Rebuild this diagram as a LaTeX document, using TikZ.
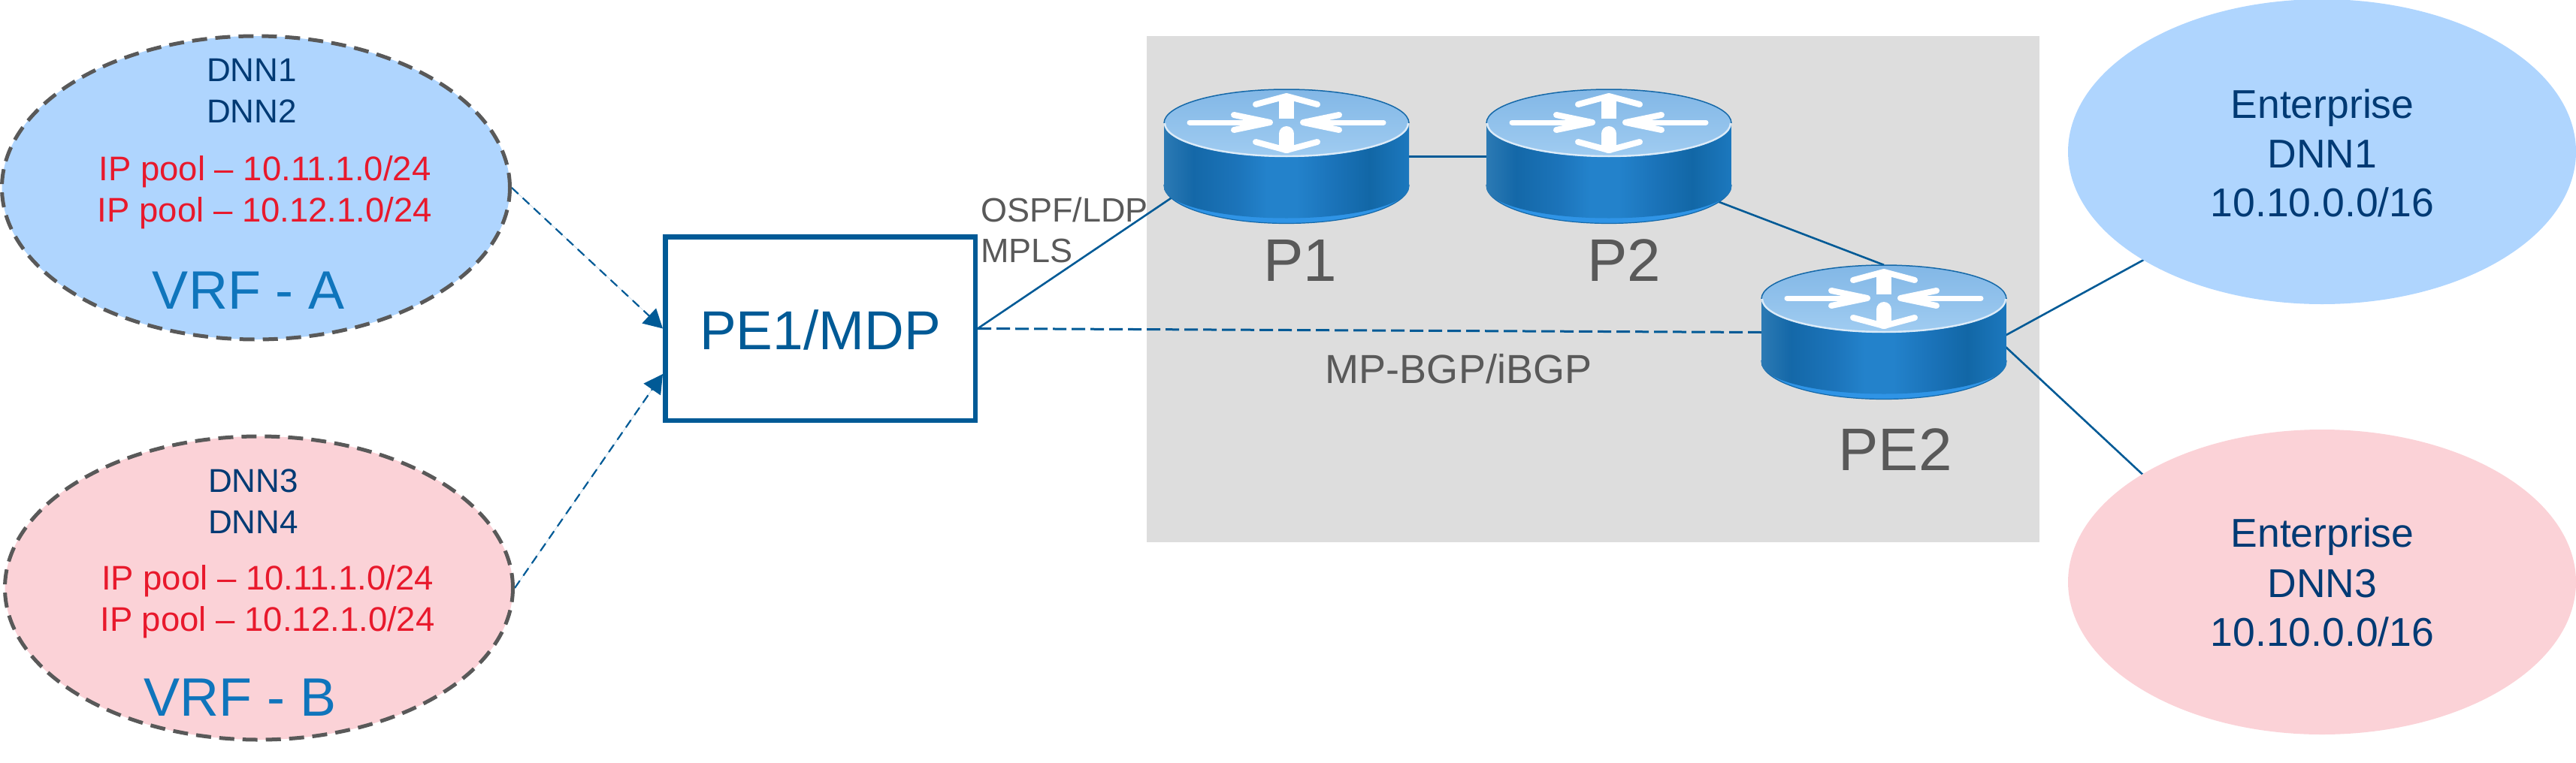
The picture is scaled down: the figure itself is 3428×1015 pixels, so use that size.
\documentclass[tikz,border=0pt]{standalone}
\usepackage{fontspec}
\setmainfont{Liberation Sans}
\usetikzlibrary{shapes.geometric,arrows.meta}
\definecolor{linkblue}{HTML}{005A96}
\definecolor{navytext}{HTML}{003A74}
\definecolor{poolred}{HTML}{E8192C}
\definecolor{vrfblue}{HTML}{0F75BC}
\definecolor{greytext}{HTML}{595959}
\definecolor{skyfill}{HTML}{AFD5FE}
\definecolor{pinkfill}{HTML}{FBD2D7}
\definecolor{zonegrey}{HTML}{DDDDDD}
\definecolor{rimgrey}{HTML}{595959}
\definecolor{sideA}{HTML}{2C7AB4}
\definecolor{sideB}{HTML}{1468A8}
\definecolor{sideC}{HTML}{1C74BA}
\definecolor{sideD}{HTML}{2382CB}
\definecolor{sideE}{HTML}{1A72B8}
\definecolor{sideF}{HTML}{1267A6}
\definecolor{sideG}{HTML}{1C78BE}
\definecolor{baseband}{HTML}{2F94E6}
\definecolor{topupper}{HTML}{82B7E6}
\definecolor{toplower}{HTML}{A0CCF1}
\definecolor{topglow}{HTML}{DCEBF8}
\pgfdeclarehorizontalshading{routerside}{100bp}{
  color(0bp)=(sideA); color(25bp)=(sideA); color(31bp)=(sideB); color(40bp)=(sideC);
  color(46bp)=(sideD); color(52bp)=(sideD); color(60bp)=(sideE); color(67bp)=(sideF);
  color(75bp)=(sideG); color(100bp)=(sideG)}
\pgfdeclarelayer{zone}
\pgfdeclarelayer{links}
\pgfsetlayers{zone,links,main}
\tikzset{
  vrfcloud/.style={ellipse,draw=rimgrey,line width=5pt,dash pattern=on 20pt off 11pt,
    minimum width=676pt,minimum height=404pt,inner sep=0pt},
  entcloud/.style={ellipse,minimum width=676pt,minimum height=406pt,inner sep=0pt},
  routerbox/.style={minimum width=326pt,minimum height=179pt,inner sep=0pt},
  txt/.style={anchor=base,inner sep=0pt,outer sep=0pt},
  dnn/.style={txt,text=navytext,font=\fontsize{44}{44}\selectfont},
  pool/.style={txt,text=poolred,font=\fontsize{45.5}{45.5}\selectfont},
  vrf/.style={txt,text=vrfblue,font=\fontsize{72}{72}\selectfont},
  ent/.style={txt,text=navytext,font=\fontsize{53.5}{53.5}\selectfont},
  rlabel/.style={txt,text=greytext,font=\fontsize{80}{80}\selectfont},
  link/.style={draw=linkblue,line width=2.6pt},
  dashlink/.style={draw=linkblue,line width=3pt,dash pattern=on 18pt off 7pt},
  feed/.style={draw=linkblue,fill=linkblue,line width=2.2pt,dash pattern=on 12pt off 8pt,
    -{Triangle[length=25pt,width=27pt]}},
  arrowmark/.style={draw=white,line width=8pt,line join=round,line cap=round},
  router/.pic={
    \path[draw=sideB,line width=1.2pt,fill=baseband]
      (-163,38) arc[start angle=180,end angle=360,x radius=163pt,y radius=51pt] -- cycle;
    \shade[shading=routerside]
      (-163,-44.5) -- (-163,41) arc[start angle=180,end angle=360,x radius=163pt,y radius=41pt] -- (163,-44.5) -- cycle;
    \shade[top color=topupper,bottom color=toplower]
      (0,-44.5) ellipse[x radius=163pt,y radius=45pt];
    \draw[sideB,line width=1.5pt]
      (-163,-44.5) arc[start angle=180,end angle=0,x radius=163pt,y radius=45pt];
    \draw[topglow,line width=2.4pt]
      (-162,-44.5) arc[start angle=180,end angle=360,x radius=162pt,y radius=44pt];
    \begin{scope}[shift={(0,-44.5)}]
      \draw[white,line width=20pt] (0,-6) -- (0,-32);
      \draw[arrowmark] (-41,-25) -- (0,-36) -- (41,-25);
      \draw[white,line width=20pt,line cap=round] (0,14) -- (0,30);
      \draw[arrowmark] (-41,25) -- (0,36) -- (41,25);
      \draw[white,line width=7pt,line cap=round] (-129,-1) -- (-50,-1);
      \draw[arrowmark] (-70,-11) -- (-22,-1) -- (-70,9);
      \fill[white] (-58,-7) -- (-22,-1) -- (-58,5) -- cycle;
      \draw[white,line width=7pt,line cap=round] (129,-1) -- (50,-1);
      \draw[arrowmark] (70,-11) -- (22,-1) -- (70,9);
      \fill[white] (58,-7) -- (22,-1) -- (58,5) -- cycle;
    \end{scope}
  }
}
\begin{document}
\begin{tikzpicture}[x=1pt,y=-1pt]
\useasboundingbox (0,0) rectangle (3428,1015);
\begin{pgfonlayer}{zone}
  \fill[zonegrey] (1526,48) rectangle (2714,722);
\end{pgfonlayer}
% clouds
\node[vrfcloud,fill=skyfill] (vrfA) at (340.5,250) {};
\node[vrfcloud,fill=pinkfill] (vrfB) at (344.5,783) {};
\node[entcloud,fill=skyfill] (entA) at (3090,202) {};
\node[entcloud,fill=pinkfill] (entB) at (3090,775) {};
% box
\node[draw=linkblue,fill=white,line width=6.5pt,minimum width=412.5pt,minimum height=244.5pt,
      inner sep=0pt] (box) at (1091.5,437.5) {};
\node[txt,text=linkblue,font=\fontsize{73}{73}\selectfont] (boxlabel) at (1091.5,465) {PE1/MDP};
% routers (anchors only; drawn below)
\node[routerbox] (P1) at (1712,208.5) {};
\node[routerbox] (P2) at (2141,208.5) {};
\node[routerbox] (PE2) at (2507,442.5) {};
% free ends of connectors
\coordinate (boxinB) at (882,498);
\coordinate (p1in) at (1561,262);
\coordinate (p2out) at (2280,266);
\coordinate (pe2up) at (2668,447);
\coordinate (pe2down) at (2668,461);
\coordinate (entAin) at (2860,342);
\coordinate (entBin) at (2859,639);
% connectors
\begin{pgfonlayer}{links}
  \draw[feed] (vrfA.east) -- (box.west);
  \draw[feed] (vrfB.east) -- (boxinB);
  \draw[link] (box.east) -- (p1in);
  \draw[dashlink] (box.east) -- (PE2.west);
  \draw[link] (P1.east) -- (P2.west);
  \draw[link] (p2out) -- (PE2.north);
  \draw[link] (pe2up) -- (entAin);
  \draw[link] (pe2down) -- (entBin);
\end{pgfonlayer}
% router drawings
\pic at (P1.center) {router};
\pic at (P2.center) {router};
\pic at (PE2.center) {router};
% labels
\node[dnn] (dnnA) at (335,108) {DNN1};
\node[dnn] (dnnB) at (335,163) {DNN2};
\node[pool] (poolA) at (352.5,240) {IP pool – 10.11.1.0/24};
\node[pool] (poolB) at (352.5,295) {IP pool – 10.12.1.0/24};
\node[vrf] (vrfAlabel) at (331,411) {VRF - A};
\node[dnn] (dnnC) at (337,655) {DNN3};
\node[dnn] (dnnD) at (337,710) {DNN4};
\node[pool] (poolC) at (356,785) {IP pool – 10.11.1.0/24};
\node[pool] (poolD) at (356,840) {IP pool – 10.12.1.0/24};
\node[vrf] (vrfBlabel) at (319.5,953) {VRF - B};
\node[ent] (e1) at (3090.5,157) {Enterprise};
\node[ent] (e2) at (3090.5,223) {DNN1};
\node[ent] (e3) at (3090.5,288) {10.10.0.0/16};
\node[ent] (e4) at (3090.5,728) {Enterprise};
\node[ent] (e5) at (3090.5,795) {DNN3};
\node[ent] (e6) at (3090.5,860) {10.10.0.0/16};
\node[rlabel] (lP1) at (1730,374) {P1};
\node[rlabel] (lP2) at (2161,374) {P2};
\node[rlabel] (lPE2) at (2522,626) {PE2};
\node[txt,anchor=base west,text=greytext,font=\fontsize{45}{45}\selectfont] (ospf) at (1305,295) {OSPF/LDP};
\node[txt,anchor=base west,text=greytext,font=\fontsize{45}{45}\selectfont] (mpls) at (1305,349) {MPLS};
\node[txt,text=greytext,font=\fontsize{54}{54}\selectfont] (bgp) at (1941,510) {MP-BGP/iBGP};
\end{tikzpicture}
\end{document}
